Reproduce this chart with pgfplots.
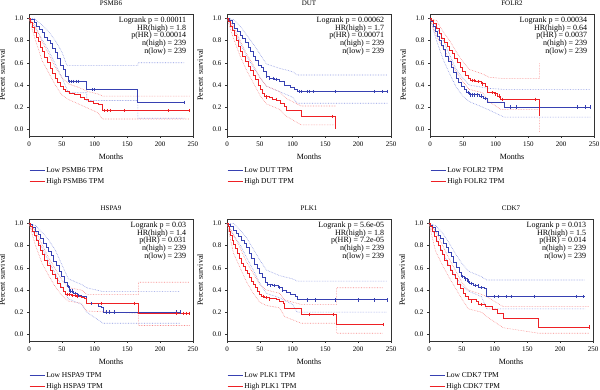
\documentclass[border=0pt]{standalone}
\usepackage{pgfplots}
\pgfplotsset{compat=1.18}
\usepackage{fontspec}
\setmainfont{Liberation Serif}
\definecolor{kmblue}{RGB}{55,65,178}
\definecolor{kmred}{RGB}{238,32,36}
\definecolor{kmblueci}{RGB}{135,148,225}
\definecolor{kmredci}{RGB}{248,135,135}
\pgfplotsset{
  km/.style={
    width=164pt, height=122pt, scale only axis,
    anchor=south west,
    xmin=0, xmax=250, ymin=-0.06, ymax=1.04,
    xtick={0,50,100,150,200,250}, ytick={0,0.2,0.4,0.6,0.8,1.0},
    yticklabel style={/pgf/number format/fixed,/pgf/number format/fixed zerofill,/pgf/number format/precision=1},
    /pgf/number format/assume math mode=true,
    tick align=outside, tick pos=left, major tick length=2pt,
    axis line style={line width=0.4pt, black!80},
    every tick/.style={black!80, line width=0.4pt},
    font=\fontsize{7}{8}\selectfont,
    xlabel={Months}, ylabel={Percent survival},
    label style={font=\fontsize{8}{9}\selectfont},
    xlabel style={yshift=-1pt},
    ylabel style={yshift=3pt},
    title style={yshift=-1.5pt, font=\fontsize{7}{8}\selectfont},
    legend style={draw=none, fill=none, at={(rel axis cs:0,-0.245)}, anchor=north west,
      inner sep=0pt, row sep=2pt, font=\fontsize{7.5}{8}\selectfont,
      nodes={inner sep=1.2pt}},
    legend cell align=left,
    legend image code/.code={\draw[#1] (0pt,0pt) -- (15pt,0pt);},
    clip=false,
  },
  lo/.style={const plot, color=kmblue, line width=0.95pt, mark=none},
  hi/.style={const plot, color=kmred, line width=0.95pt, mark=none},
  loci/.style={sharp plot, color=kmblueci, densely dotted, line width=0.6pt, mark=none, forget plot},
  hici/.style={sharp plot, color=kmredci, densely dotted, line width=0.6pt, mark=none, forget plot},
  loc/.style={only marks, mark=|, mark size=1.7pt, color=kmblue, mark options={line width=0.55pt}, forget plot},
  hic/.style={only marks, mark=|, mark size=1.7pt, color=kmred, mark options={line width=0.55pt}, forget plot},
}
\tikzset{anno/.style={anchor=north east, align=right, inner sep=0pt, font=\fontsize{8}{7.6}\selectfont}}
\begin{document}
\begin{tikzpicture}
% ---------------- PSMB6 ----------------
\begin{axis}[km, at={(29pt,254pt)}, title={PSMB6}]
\addplot[loci] coordinates {(0,1.0)(8,1.0)(20,0.94)(30,0.88)(40,0.80)(50,0.70)(58,0.574)(166,0.574)(166,0.60)(237,0.60)};
\addplot[loci] coordinates {(0,1.0)(10,0.91)(20,0.81)(30,0.71)(40,0.59)(50,0.47)(60,0.33)(88,0.33)(88,0.26)(166,0.26)(166,0.10)(237,0.10)};
\addplot[hici] coordinates {(0,1.0)(10,0.93)(20,0.79)(30,0.68)(40,0.56)(50,0.47)(60,0.41)(75,0.38)(90,0.34)(105,0.32)(112,0.30)(245,0.30)};
\addplot[hici] coordinates {(0,1.0)(10,0.80)(20,0.62)(30,0.51)(40,0.40)(50,0.31)(60,0.27)(75,0.23)(90,0.19)(105,0.15)(112,0.093)(245,0.093)};
\addplot[lo] coordinates {(0,1.0)(3,0.99)(8,0.96)(12,0.93)(16,0.90)(20,0.87)(24,0.83)(28,0.80)(32,0.77)(36,0.73)(40,0.69)(44,0.64)(48,0.58)(52,0.54)(56,0.48)(60,0.43)(88,0.357)(166,0.243)(237,0.243)};
\addlegendentry{Low PSMB6 TPM}
\addplot[hi] coordinates {(0,1.0)(2,0.96)(5,0.92)(8,0.87)(11,0.83)(14,0.79)(17,0.74)(20,0.70)(24,0.65)(28,0.60)(32,0.55)(36,0.50)(40,0.46)(44,0.42)(48,0.39)(52,0.36)(56,0.34)(62,0.32)(70,0.31)(78,0.29)(85,0.27)(90,0.25)(98,0.23)(106,0.22)(112,0.17)(245,0.17)};
\addlegendentry{High PSMB6 TPM}
\addplot[loc] coordinates {(62,0.43)(65,0.43)(68,0.43)(72,0.43)(75,0.43)(97,0.357)(100,0.357)(237,0.243)};
\addplot[hic] coordinates {(115,0.17)(120,0.17)(124,0.17)(145,0.17)(212,0.17)(245,0.17)};
\node[anno] at (rel axis cs:0.96,0.975) {Logrank p = 0.00011\\HR(high) = 1.8\\p(HR) = 0.00014\\n(high) = 239\\n(low) = 239};
\end{axis}
% ---------------- DUT ----------------
\begin{axis}[km, at={(227pt,254pt)}, title={DUT}]
\addplot[loci] coordinates {(0,1.0)(10,0.99)(20,0.93)(30,0.85)(40,0.77)(50,0.68)(60,0.59)(80,0.55)(100,0.52)(107,0.49)(245,0.49)};
\addplot[loci] coordinates {(0,1.0)(10,0.90)(20,0.78)(30,0.66)(40,0.56)(50,0.47)(60,0.39)(80,0.34)(100,0.29)(107,0.235)(245,0.235)};
\addplot[hici] coordinates {(0,1.0)(10,0.93)(20,0.80)(30,0.68)(40,0.58)(50,0.47)(60,0.39)(80,0.34)(90,0.28)(113,0.21)(166,0.21)};
\addplot[hici] coordinates {(0,1.0)(10,0.82)(20,0.66)(30,0.53)(40,0.42)(50,0.31)(60,0.23)(80,0.18)(90,0.12)(113,0.04)(166,0.04)};
\addplot[lo] coordinates {(0,1.0)(4,0.98)(8,0.95)(12,0.91)(16,0.88)(20,0.85)(24,0.82)(28,0.78)(32,0.74)(36,0.70)(40,0.66)(44,0.62)(48,0.58)(52,0.56)(56,0.52)(60,0.48)(64,0.46)(72,0.45)(80,0.43)(88,0.40)(96,0.38)(103,0.36)(107,0.34)(245,0.34)};
\addlegendentry{Low DUT TPM}
\addplot[hi] coordinates {(0,1.0)(3,0.97)(6,0.93)(9,0.89)(12,0.85)(15,0.80)(18,0.75)(21,0.70)(24,0.66)(28,0.61)(32,0.57)(36,0.53)(40,0.49)(44,0.45)(48,0.40)(51,0.36)(54,0.32)(57,0.30)(64,0.29)(70,0.27)(76,0.26)(82,0.23)(88,0.21)(91,0.17)(113,0.114)(166,0.0)};
\addlegendentry{High DUT TPM}
\addplot[loc] coordinates {(60,0.48)(65,0.46)(70,0.46)(75,0.45)(110,0.34)(113,0.34)(122,0.34)(125,0.34)(132,0.34)(165,0.34)(225,0.34)(237,0.34)(245,0.34)};
\addplot[hic] coordinates {(60,0.29)(75,0.27)(160,0.114)};
\node[anno] at (rel axis cs:0.96,0.975) {Logrank p = 0.00062\\HR(high) = 1.7\\p(HR) = 0.00071\\n(high) = 239\\n(low) = 239};
\end{axis}
% ---------------- FOLR2 ----------------
\begin{axis}[km, at={(430pt,254pt)}, title={FOLR2}]
\addplot[loci] coordinates {(0,1.0)(10,0.93)(20,0.81)(30,0.67)(40,0.54)(50,0.46)(60,0.40)(88,0.37)(113,0.36)(245,0.36)};
\addplot[loci] coordinates {(0,1.0)(10,0.80)(20,0.63)(30,0.50)(40,0.38)(50,0.30)(60,0.25)(88,0.18)(113,0.11)(245,0.11)};
\addplot[hici] coordinates {(0,1.0)(10,0.98)(20,0.88)(30,0.80)(40,0.70)(50,0.61)(60,0.54)(80,0.50)(90,0.47)(108,0.46)(167,0.46)(167,0.60)};
\addplot[hici] coordinates {(0,1.0)(10,0.84)(20,0.73)(30,0.63)(40,0.52)(50,0.43)(60,0.36)(80,0.33)(90,0.25)(108,0.18)(167,0.18)(167,-0.03)};
\addplot[lo] coordinates {(0,1.0)(2,0.97)(5,0.93)(8,0.88)(11,0.84)(14,0.80)(17,0.76)(20,0.72)(24,0.66)(28,0.61)(32,0.56)(36,0.51)(40,0.46)(44,0.42)(48,0.39)(52,0.36)(56,0.33)(60,0.31)(75,0.30)(82,0.28)(88,0.245)(113,0.20)(245,0.20)};
\addlegendentry{Low FOLR2 TPM}
\addplot[hi] coordinates {(0,1.0)(3,0.98)(6,0.95)(10,0.91)(14,0.86)(18,0.82)(22,0.78)(26,0.75)(30,0.71)(34,0.68)(38,0.64)(42,0.60)(46,0.56)(50,0.52)(54,0.49)(58,0.46)(62,0.44)(70,0.43)(78,0.41)(84,0.39)(88,0.33)(98,0.32)(103,0.30)(108,0.27)(167,0.14)};
\addlegendentry{High FOLR2 TPM}
\addplot[loc] coordinates {(58,0.33)(62,0.31)(65,0.31)(68,0.31)(72,0.31)(78,0.30)(85,0.28)(122,0.20)(132,0.20)(225,0.20)(237,0.20)(245,0.20)};
\addplot[hic] coordinates {(64,0.44)(68,0.44)(73,0.43)(80,0.41)(95,0.33)(100,0.32)(105,0.30)(110,0.27)(160,0.27)(167,0.14)};
\node[anno] at (rel axis cs:0.96,0.975) {Logrank p = 0.00034\\HR(high) = 0.64\\p(HR) = 0.0037\\n(high) = 239\\n(low) = 239};
\end{axis}
% ---------------- HSPA9 ----------------
\begin{axis}[km, at={(29pt,49pt)}, title={HSPA9}]
\addplot[loci] coordinates {(0,1.0)(10,0.98)(20,0.92)(30,0.85)(40,0.76)(50,0.63)(60,0.50)(80,0.45)(88,0.42)(113,0.385)(230,0.385)};
\addplot[loci] coordinates {(0,1.0)(10,0.88)(20,0.78)(30,0.66)(40,0.55)(50,0.43)(60,0.32)(80,0.27)(88,0.20)(113,0.10)(230,0.10)};
\addplot[hici] coordinates {(0,1.0)(10,0.93)(20,0.81)(30,0.69)(40,0.59)(50,0.49)(60,0.42)(80,0.40)(88,0.36)(167,0.36)(167,0.47)(245,0.47)};
\addplot[hici] coordinates {(0,1.0)(10,0.80)(20,0.64)(30,0.53)(40,0.43)(50,0.35)(60,0.30)(80,0.28)(88,0.21)(167,0.19)(167,0.08)(245,0.08)};
\addplot[lo] coordinates {(0,1.0)(3,0.99)(6,0.96)(10,0.93)(14,0.90)(18,0.86)(22,0.82)(26,0.78)(30,0.75)(34,0.71)(38,0.66)(42,0.62)(46,0.57)(50,0.52)(54,0.47)(58,0.43)(62,0.39)(68,0.37)(74,0.35)(80,0.34)(88,0.28)(106,0.25)(110,0.24)(113,0.20)(230,0.20)};
\addlegendentry{Low HSPA9 TPM}
\addplot[hi] coordinates {(0,1.0)(2,0.97)(5,0.93)(8,0.89)(11,0.85)(14,0.80)(17,0.76)(20,0.72)(24,0.67)(28,0.62)(32,0.58)(36,0.54)(40,0.50)(44,0.46)(48,0.42)(52,0.39)(56,0.36)(64,0.35)(72,0.34)(80,0.33)(84,0.32)(88,0.28)(167,0.19)(245,0.19)};
\addlegendentry{High HSPA9 TPM}
\addplot[loc] coordinates {(60,0.43)(63,0.39)(66,0.39)(70,0.37)(75,0.35)(95,0.28)(118,0.20)(122,0.20)(130,0.20)(225,0.20)(230,0.20)};
\addplot[hic] coordinates {(58,0.36)(62,0.36)(66,0.35)(70,0.35)(74,0.34)(110,0.28)(160,0.28)(225,0.19)(235,0.19)(240,0.19)(245,0.19)};
\node[anno] at (rel axis cs:0.96,0.975) {Logrank p = 0.03\\HR(high) = 1.4\\p(HR) = 0.031\\n(high) = 239\\n(low) = 239};
\end{axis}
% ---------------- PLK1 ----------------
\begin{axis}[km, at={(227pt,49pt)}, title={PLK1}]
\addplot[loci] coordinates {(0,1.0)(10,1.0)(20,0.94)(30,0.87)(40,0.77)(50,0.67)(60,0.58)(80,0.53)(100,0.50)(107,0.48)(244,0.48)};
\addplot[loci] coordinates {(0,1.0)(10,0.89)(20,0.81)(30,0.69)(40,0.58)(50,0.46)(60,0.37)(80,0.33)(100,0.27)(107,0.20)(244,0.20)};
\addplot[hici] coordinates {(0,1.0)(10,0.90)(20,0.78)(30,0.65)(40,0.55)(50,0.45)(60,0.40)(80,0.37)(88,0.31)(113,0.27)(167,0.27)(167,0.42)(238,0.42)};
\addplot[hici] coordinates {(0,1.0)(10,0.73)(20,0.60)(30,0.47)(40,0.37)(50,0.29)(60,0.26)(80,0.24)(88,0.16)(113,0.10)(167,0.10)(167,0.01)(238,0.01)};
\addplot[lo] coordinates {(0,1.0)(3,0.99)(6,0.97)(10,0.94)(14,0.91)(18,0.88)(22,0.85)(26,0.82)(30,0.78)(34,0.73)(38,0.68)(42,0.63)(46,0.59)(50,0.55)(54,0.51)(58,0.47)(62,0.45)(70,0.44)(78,0.42)(84,0.40)(90,0.38)(96,0.36)(104,0.34)(107,0.31)(244,0.31)};
\addlegendentry{Low PLK1 TPM}
\addplot[hi] coordinates {(0,1.0)(2,0.97)(4,0.93)(6,0.89)(8,0.85)(10,0.81)(13,0.77)(16,0.73)(19,0.68)(22,0.64)(25,0.61)(28,0.58)(31,0.55)(34,0.51)(37,0.48)(40,0.45)(43,0.42)(46,0.39)(49,0.36)(52,0.34)(57,0.33)(64,0.32)(75,0.31)(80,0.30)(86,0.28)(88,0.23)(113,0.18)(167,0.087)(238,0.087)};
\addlegendentry{High PLK1 TPM}
\addplot[loc] coordinates {(62,0.45)(66,0.44)(72,0.44)(80,0.42)(85,0.40)(122,0.31)(135,0.31)(165,0.31)(200,0.31)(225,0.31)(244,0.31)};
\addplot[hic] coordinates {(55,0.34)(60,0.33)(65,0.32)(126,0.18)(162,0.18)(238,0.087)};
\node[anno] at (rel axis cs:0.96,0.975) {Logrank p = 5.6e-05\\HR(high) = 1.8\\p(HR) = 7.2e-05\\n(high) = 239\\n(low) = 239};
\end{axis}
% ---------------- CDK7 ----------------
\begin{axis}[km, at={(429pt,49pt)}, title={CDK7}]
\addplot[loci] coordinates {(0,1.0)(10,0.98)(20,0.92)(30,0.83)(40,0.73)(50,0.64)(60,0.57)(80,0.52)(88,0.49)(238,0.49)};
\addplot[loci] coordinates {(0,1.0)(10,0.88)(20,0.75)(30,0.63)(40,0.52)(50,0.44)(60,0.39)(80,0.34)(88,0.23)(238,0.23)};
\addplot[hici] coordinates {(0,1.0)(10,0.93)(20,0.81)(30,0.69)(40,0.58)(50,0.47)(60,0.40)(80,0.36)(88,0.34)(113,0.25)(167,0.25)(244,0.25)};
\addplot[hici] coordinates {(0,1.0)(10,0.75)(20,0.63)(30,0.52)(40,0.42)(50,0.32)(60,0.23)(80,0.20)(88,0.16)(113,0.06)(167,0.01)(244,0.01)};
\addplot[lo] coordinates {(0,1.0)(3,0.98)(6,0.96)(10,0.93)(14,0.89)(18,0.86)(22,0.82)(26,0.78)(30,0.74)(34,0.70)(38,0.65)(42,0.60)(46,0.56)(50,0.52)(54,0.50)(58,0.48)(62,0.46)(68,0.44)(76,0.42)(84,0.41)(88,0.34)(238,0.34)};
\addlegendentry{Low CDK7 TPM}
\addplot[hi] coordinates {(0,1.0)(2,0.97)(5,0.93)(8,0.88)(11,0.84)(14,0.80)(17,0.76)(20,0.72)(24,0.67)(28,0.62)(32,0.58)(36,0.54)(40,0.50)(44,0.45)(48,0.41)(52,0.37)(56,0.34)(60,0.31)(72,0.30)(76,0.27)(86,0.25)(96,0.225)(104,0.19)(113,0.14)(167,0.066)(244,0.066)};
\addlegendentry{High CDK7 TPM}
\addplot[loc] coordinates {(50,0.52)(55,0.50)(60,0.48)(65,0.46)(70,0.44)(75,0.44)(80,0.42)(100,0.34)(106,0.34)(118,0.34)(125,0.34)(160,0.34)(225,0.34)(235,0.34)};
\addplot[hic] coordinates {(65,0.30)(80,0.27)(244,0.066)};
\node[anno] at (rel axis cs:0.96,0.975) {Logrank p = 0.013\\HR(high) = 1.5\\p(HR) = 0.014\\n(high) = 239\\n(low) = 239};
\end{axis}
\pgfresetboundingbox
\useasboundingbox (0,0) rectangle (600pt,390pt);
\end{tikzpicture}
\end{document}
